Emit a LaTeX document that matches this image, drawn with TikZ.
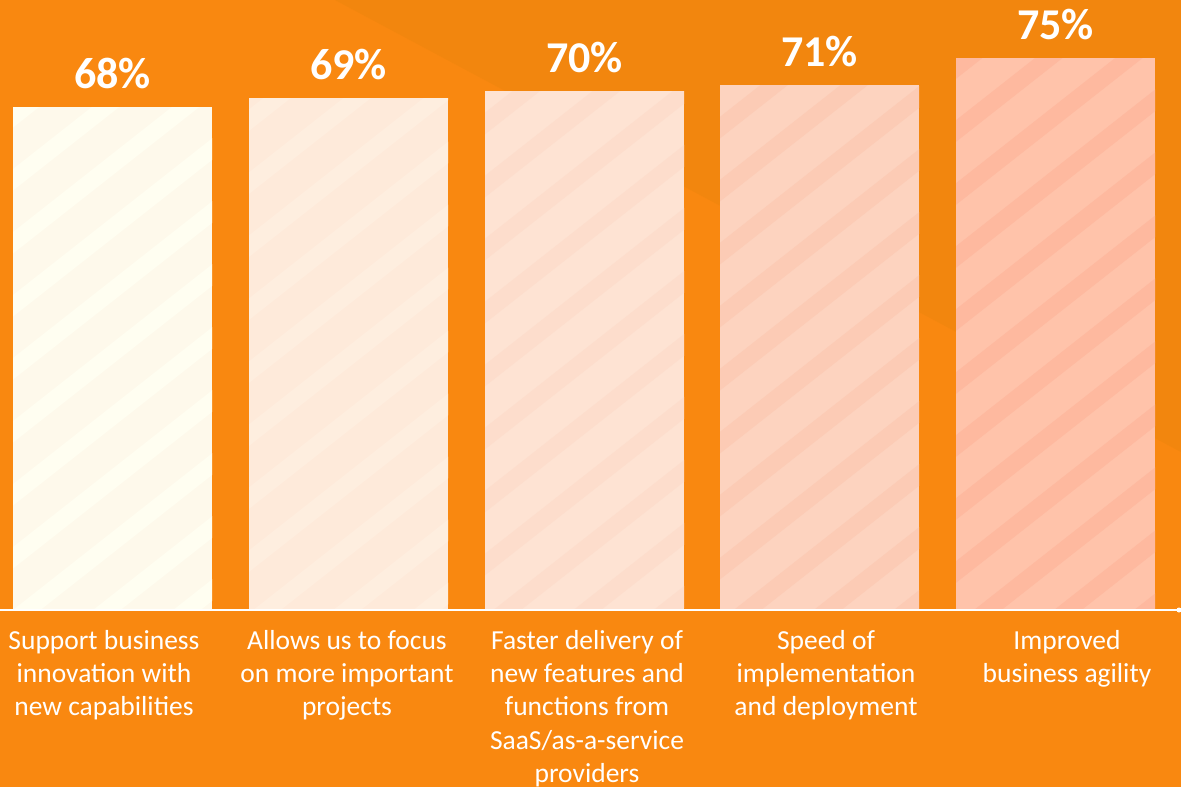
\documentclass[tikz,border=0pt]{standalone}
\usepackage{fontspec}
\setmainfont{Carlito}
\usepackage{tikz}
\usetikzlibrary{positioning}
\usepackage{xcolor}

\definecolor{bgorange}{HTML}{F98810}
\definecolor{bgshade}{HTML}{F2860E}
\definecolor{bar1}{HTML}{FEF9EB}
\definecolor{stripe1}{HTML}{FFFEF1}
\definecolor{bar2}{HTML}{FEEADA}
\definecolor{stripe2}{HTML}{FEEEDF}
\definecolor{bar3}{HTML}{FEE3D3}
\definecolor{stripe3}{HTML}{FDDDCC}
\definecolor{bar4}{HTML}{FDD3BF}
\definecolor{stripe4}{HTML}{FCCBB5}
\definecolor{bar5}{HTML}{FFC3AA}
\definecolor{stripe5}{HTML}{FEB99F}

\tikzset{
  pct/.style={text=white, inner sep=0pt, font=\bfseries\fontsize{44}{44}\selectfont},
  lbl/.style={text=white, inner sep=0pt, align=center, font=\fontsize{27.5}{33.3}\selectfont}
}

\begin{document}
\begin{tikzpicture}[x=1pt, y=-1pt]
\useasboundingbox (0,0) rectangle (1181,787);
\fill [bgorange] (0,0) rectangle (1181,787);
\fill [bgshade] (335,0) -- (1181,0) -- (1181,452) -- cycle;

% bars: number / left edge / top / value / label centre / label
\foreach \n/\xl/\yt/\val/\xc/\txt in {
    1/13/107/68/104/{Support business\\innovation with\\new capabilities},
    2/249/98/69/347/{Allows us to focus\\on more important\\projects},
    3/485/91/70/587/{Faster delivery of\\new features and\\functions from\\SaaS/as-a-service\\providers},
    4/720/85/71/826/{Speed of\\implementation\\and deployment},
    5/956/58/75/1067/{Improved\\business agility}}
{
  \fill [bar\n] (\xl,\yt) rectangle (\xl+199,610);
  \begin{scope}
    \clip (\xl,\yt) rectangle (\xl+199,610);
    \foreach \k in {0,...,26}
      \draw [stripe\n, line width=17pt] (0,63*\k+1) -- (1181,63*\k-928);
  \end{scope}
  \node [pct, anchor=base] (pct\n) at (\xl+99.5,\yt-19) {\val\%};
  \node [lbl, anchor=north] (lbl\n) at (\xc,630) {\txt};
}

% axis line
\coordinate (axisL) at (0,610);
\coordinate (axisR) at (1179,610);
\draw [white, line width=2pt] (axisL) -- (axisR);
\fill [white] (axisR) circle (2.5);

\end{tikzpicture}
\end{document}
